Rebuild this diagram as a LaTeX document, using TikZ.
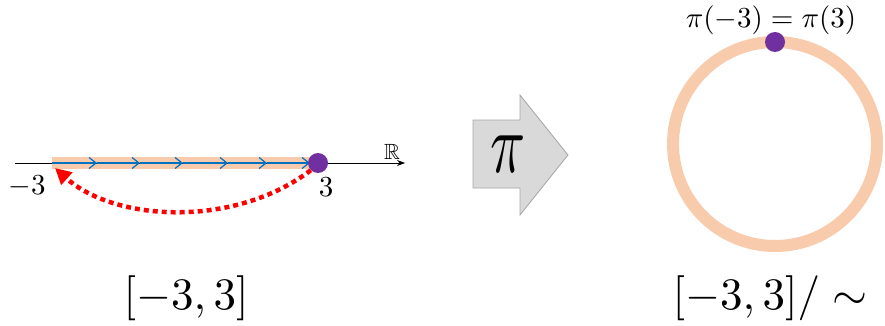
\documentclass[tikz,border=0pt]{standalone}
\usepackage{amssymb}
\usetikzlibrary{arrows.meta}
\definecolor{peach}{RGB}{248,203,173}
\definecolor{bluearr}{RGB}{0,112,192}
\definecolor{purpledot}{RGB}{112,48,160}
\definecolor{arrfill}{RGB}{217,217,217}
\definecolor{arrdraw}{RGB}{166,166,166}
\tikzset{
  band/.style={peach,line width=12pt},
  dotnode/.style={circle,fill=purpledot,inner sep=0pt,minimum size=20pt},
  smalllab/.style={scale=2.9,inner sep=0pt},
  biglab/.style={scale=4.5,inner sep=0pt},
  flow/.style={bluearr,line width=1.2pt},
}
\begin{document}
\begin{tikzpicture}[x=1pt,y=-1pt]
\useasboundingbox (0,0) rectangle (885,326);
% axis
\coordinate (axL) at (15,163);
\coordinate (axR) at (405,163);
\coordinate (m3) at (52,163);
\coordinate (p3) at (318,163);
\draw[band] (m3) -- (p3);
\draw[-{Stealth[length=8pt,width=6pt]},line width=0.8pt] (axL) -- (axR);
\node[scale=2.2,inner sep=0pt] (R) at (392,152) {$\mathbb{R}$};
% blue flow arrows
\foreach \a/\b in {52/97,97/140,140/183,183/228,228/267,267/310}{
  \draw[flow,-{Straight Barb[length=7pt,width=11pt]}] (\a,163) -- (\b,163);
}
\draw[flow] (310,163) -- (p3);
\node[dotnode] (dot1) at (p3) {};
\node[smalllab] (lm3) at (27,186) {$-3$};
\node[smalllab] (lp3) at (326,187) {$3$};
% red dotted return
\coordinate (redend) at (55,168);
\draw[red,line width=4.5pt,dash pattern=on 5pt off 4pt,-{Triangle[length=16pt,width=16pt]}]
  (dot1.south west) .. controls (235,228) and (115,222) .. (redend);
% big arrow
\coordinate (a1) at (473,120);
\coordinate (a2) at (520,120);
\coordinate (a3) at (520,95);
\coordinate (a4) at (568,155);
\coordinate (a5) at (520,215);
\coordinate (a6) at (520,188);
\coordinate (a7) at (473,188);
\draw[draw=arrdraw,fill=arrfill,line width=0.8pt,line join=miter]
  (a1) -- (a2) -- (a3) -- (a4) -- (a5) -- (a6) -- (a7) -- cycle;
\node[xscale=5.8,yscale=8.5,inner sep=0pt] (pi) at (508,154) {$\pi$};
% circle
\coordinate (cc) at (775,144);
\draw[peach,line width=12pt] (cc) circle[radius=102];
\node[dotnode] (dot2) at (775,42) {};
\node[smalllab] (toplab) at (771,20) {$\pi(-3)=\pi(3)$};
% bottom labels
\node[biglab] (lab1) at (186,298) {$[-3,3]$};
\node[biglab] (lab2) at (770,298) {$[-3,3]/\sim$};
\end{tikzpicture}
\end{document}
